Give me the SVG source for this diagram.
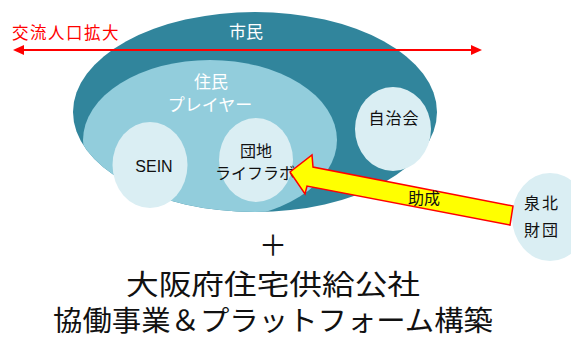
<svg xmlns="http://www.w3.org/2000/svg" width="571" height="338" viewBox="0 0 571 338">
<style>
.jp{font-family:"Noto Sans CJK JP","Liberation Sans",sans-serif;}
.lbl{font-family:"Liberation Sans","Noto Sans CJK JP",sans-serif;font-size:16px;fill:#111;text-anchor:middle;}
.wh{fill:#ffffff;font-size:17px;text-anchor:middle;}
.pale{fill:#DAEEF3;}
.big{font-size:28px;fill:#111;text-anchor:middle;}
</style>
<defs>
<clipPath id="outerClip"><ellipse cx="255" cy="112" rx="182" ry="100"/></clipPath>
</defs>
<rect width="571" height="338" fill="#ffffff"/>
<g id="citizens">
<ellipse cx="255" cy="112" rx="182" ry="100" fill="#31859C"/>
<text class="jp wh" x="246" y="38" font-size="17">市民</text>
</g>
<g id="resident-players">
<ellipse cx="210" cy="140" rx="127" ry="80" fill="#92CDDC" clip-path="url(#outerClip)"/>
<text class="jp wh" x="211" y="88">住民</text>
<text class="jp wh" x="210" y="111">プレイヤー</text>
</g>
<g id="sein">
<ellipse class="pale" cx="150" cy="165" rx="37.5" ry="43"/>
<text class="lbl" x="154" y="172" font-size="18">SEIN</text>
</g>
<g id="danchi-lifelab">
<ellipse class="pale" cx="256" cy="160" rx="37" ry="42"/>
<text class="lbl jp" x="256" y="157" font-size="17">団地</text>
<text class="lbl jp" x="255" y="179" font-size="16">ライフラボ</text>
</g>
<g id="jichikai">
<ellipse class="pale" cx="393" cy="129" rx="38" ry="42"/>
<text class="lbl jp" x="394" y="124" font-size="17.5" letter-spacing="1">自治会</text>
</g>
<g id="senboku-zaidan">
<ellipse class="pale" cx="550" cy="217" rx="38" ry="44"/>
<text class="lbl jp" x="542" y="209" font-size="17.5" letter-spacing="2">泉北</text>
<text class="lbl jp" x="542" y="236" font-size="17.5" letter-spacing="2">財団</text>
</g>
<g id="connectors">
<g id="exchange-arrow">
<line x1="22" y1="50" x2="473" y2="50" stroke="#FF0000" stroke-width="2"/>
<polygon points="13,50 24,45 24,55" fill="#FF0000"/>
<polygon points="482,50 471,45 471,55" fill="#FF0000"/>
<text class="jp" x="12" y="39" font-size="16.5" fill="#FF0000" letter-spacing="1.5">交流人口拡大</text>
</g>
<g id="grant-arrow">
<polygon points="290,172 312,155 313,167 513,206 510,225 307,186 305,194" fill="#FFFF00" stroke="#FF0000" stroke-width="1.5" stroke-linejoin="miter"/>
<text class="lbl jp" x="424" y="204" font-size="17.5">助成</text>
</g>
</g>
<g id="footer">
<text class="jp big" x="273" y="256" font-size="26">＋</text>
<text class="jp big" x="273" y="295" textLength="294" lengthAdjust="spacingAndGlyphs">大阪府住宅供給公社</text>
<text class="jp big" x="273" y="331" textLength="440" lengthAdjust="spacingAndGlyphs">協働事業＆プラットフォーム構築</text>
</g>
</svg>
